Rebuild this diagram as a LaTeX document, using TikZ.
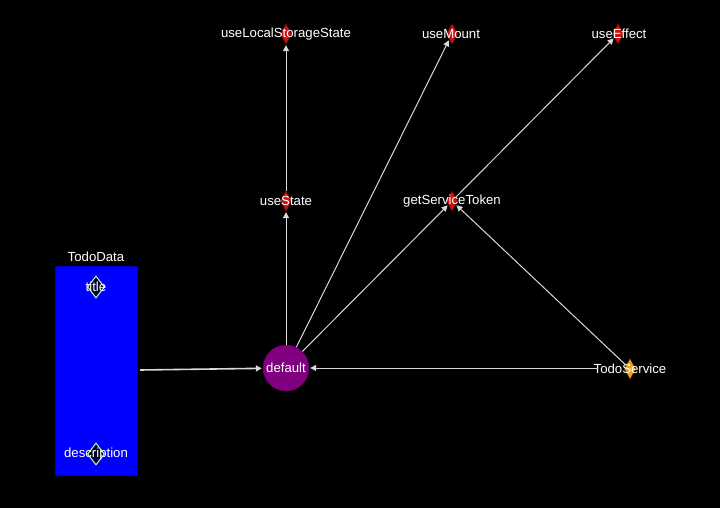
\documentclass[tikz,border=0pt]{standalone}
\usepackage{fontspec}
\setmainfont{Liberation Sans}
\usetikzlibrary{shapes.geometric,arrows.meta}
\definecolor{dpurple}{RGB}{128,0,128}
\definecolor{dred}{RGB}{200,20,20}
\definecolor{dorange}{RGB}{235,165,20}
\begin{document}
\begin{tikzpicture}[x=1pt,y=-1pt,
  lbl/.style={text=white,font=\fontsize{13.2}{15}\selectfont,inner sep=0pt},
  rdia/.style={diamond,fill=dred,draw=red!50!black,minimum width=11pt,minimum height=20pt,inner sep=0pt},
  odia/.style={diamond,fill=dorange,draw=orange!60!black,minimum width=11pt,minimum height=20pt,inner sep=0pt},
  gdia/.style={diamond,fill=black!85!blue,draw=green!25!white,line width=1pt,minimum width=17pt,minimum height=22pt,inner sep=0pt},
  conn/.style={draw=white!85!black,line width=1pt,-{Triangle[length=6pt,width=6pt]},shorten >=1pt},
]
\fill[black] (0,0) rectangle (720,508);
\useasboundingbox (0,0) rectangle (720,508);
% diamonds
\node[rdia] (dls) at (286,34) {};
\node[rdia] (dm) at (452,34) {};
\node[rdia] (de) at (618,34) {};
\node[rdia] (ds) at (286,201) {};
\node[rdia] (dg) at (452,201) {};
\node[odia] (dt) at (630,369) {};
% labels
\node[lbl] (ls) at (286,34) {useLocalStorageState};
\node[lbl] (um) at (451,34) {useMount};
\node[lbl] (ue) at (619,34) {useEffect};
\node[lbl] (us) at (286,201) {useState};
\node[lbl] (gs) at (452,201) {getServiceToken};
\node[lbl] (ts) at (630,369) {TodoService};
% TodoData
\node[draw=blue!80!black,fill=blue,minimum width=82pt,minimum height=209pt,inner sep=0pt] (td) at (96,370.5) {};
\node[lbl] (tdl) at (96,257) {TodoData};
\node[gdia] (dti) at (96,287) {};
\node[gdia] (dde) at (96,454) {};
\node[lbl] (ti) at (96,287) {title};
\node[lbl] (de2) at (96,454) {description};
% default
\node[circle,fill=dpurple,draw=dpurple!80!black,minimum size=46pt,inner sep=0pt,text=white,font=\fontsize{13.2}{15}\selectfont] (df) at (286,368) {default};
% connectors
\coordinate (tdout) at (140,370);
\draw[conn,line width=1.6pt] (tdout) -- (df);
\coordinate (tsin) at (598,368);
\draw[conn] (tsin) -- (df);
\draw[conn] (df) -- (ds);
\draw[conn] (ds) -- (dls);
\draw[conn] (df) -- (dm);
\draw[conn] (df) -- (dg);
\draw[conn] (dg) -- (de);
\draw[conn] (dt) -- (dg);
\end{tikzpicture}
\end{document}
